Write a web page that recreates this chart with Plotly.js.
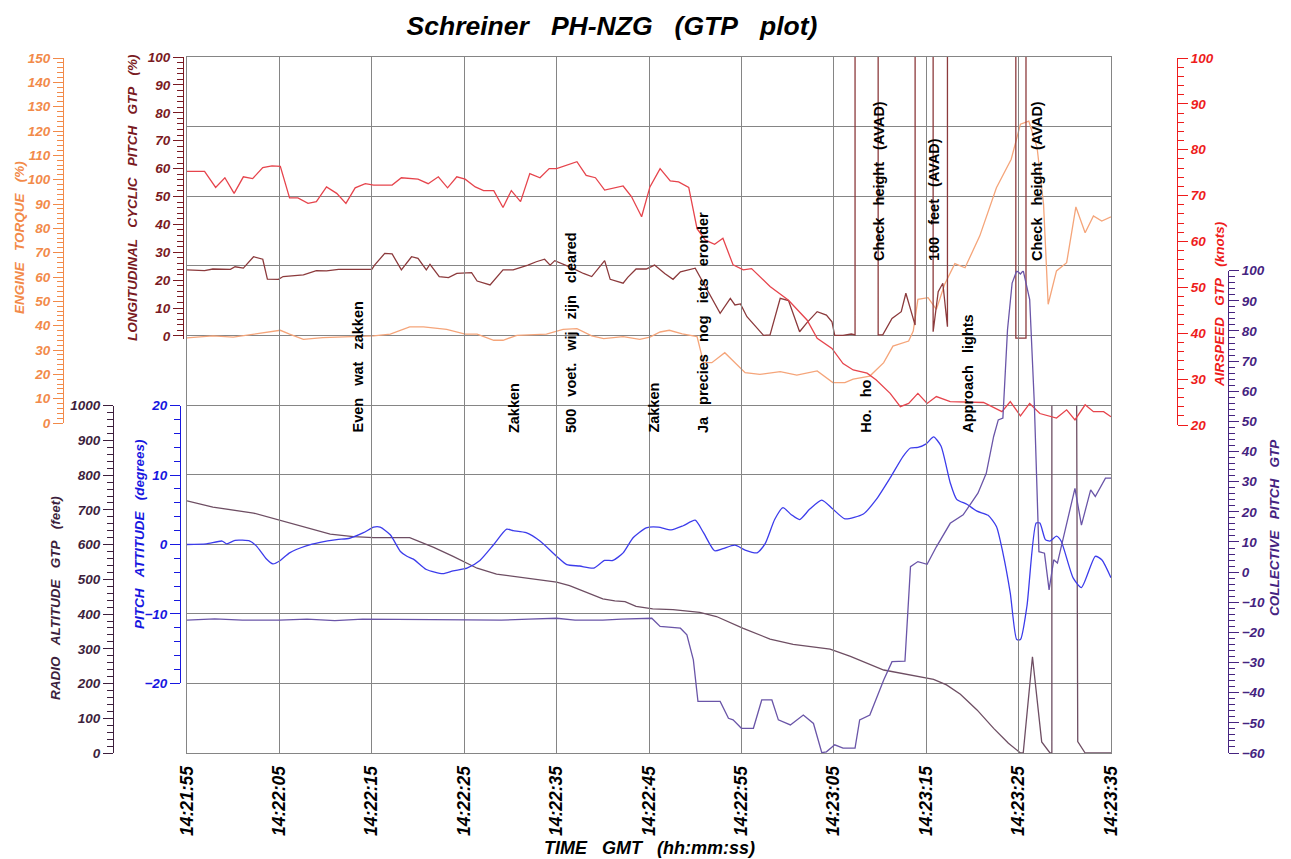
<!DOCTYPE html>
<html>
<head>
<meta charset="utf-8">
<script src="https://cdn.plot.ly/plotly-3.0.1.min.js"></script>
<style>
html,body{margin:0;padding:0;background:#fff;}
#chart{width:1291px;height:859px;}
</style>
</head>
<body>
<div id="chart"></div>
<script>
// ---------------- DATA (seconds after 14:21:55 GMT) ----------------
const startClock = [14, 21, 55];
const OFF = 1000;      // off-scale (above top of axis) for cyclic pitch
const OFF_ALT = 5000;  // off-scale radio altitude

const airspeedTime = [0,1.9,3.1,4.1,5.1,6.1,7.1,8.2,9.2,10.1,11.1,12.0,13.1,14.0,15.1,16.2,17.2,18.2,19.3,20.2,22.2,23.2,25.0,26.1,27.2,28.2,29.2,30.1,31.2,32.1,33.2,34.2,35.1,36.1,37.1,38.2,39.2,40.0,42.2,43.2,44.2,45.2,47.2,48.1,49.2,50.1,51.2,52.3,53.2,54.3,55.2,56.1,57.1,58.0,59.1,60.2,61.1,63.1,65.1,67.1,68.2,69.8,71.0,72.1,73.6,74.6,76.1,77.2,78.1,79.1,80.1,81.1,82.6,84.7,86.2,88.2,89.1,90.2,91.2,92.3,94.1,95.2,96.1,97.2,98.1,99.2,100];
const airspeedKnots = [75.3,75.3,71.8,73.9,70.5,74.1,73.7,76.1,76.5,76.4,69.5,69.5,68.3,68.7,71.9,70.5,68.3,71.7,72.6,72.3,72.3,73.9,73.6,72.6,74.1,71.7,74.1,73.6,71.9,71.1,71.1,67.4,71.1,68.7,74.8,73.9,75.9,75.9,77.4,74.4,73.9,71.2,72.1,69.8,65.4,71.9,75.9,73.2,73.0,71.8,62.8,60.3,59.4,60.7,54.9,53.8,54.1,50.2,47.2,42.9,38.9,36.7,33.4,32.0,31.3,29.8,26.9,24.0,24.7,26.9,24.7,26.2,25.1,24.9,24.9,22.9,25.1,22.0,24.7,22.5,21.5,23.3,21.1,24.4,22.9,22.9,21.8];

const cyclicTime = [0,1.9,2.8,4.7,5.2,6.1,7.2,8.2,8.7,9.9,10.4,12.6,14.0,15.1,16.4,19.1,20.0,20.3,21.4,22.2,23.2,24.3,25.0,25.9,26.3,27.3,28.3,29.2,30.8,31.4,32.8,34.2,35.3,36.9,37.8,38.7,39.3,39.8,41.6,42.9,43.8,45.2,45.8,47.2,47.7,48.6,49.7,50.6,51.7,52.6,53.4,55.0,55.7,56.8,57.7,58.8,59.3,59.9,60.6,62.4,63.1,64.2,65.1,66.3,67.1,68.2,69.2,69.8,70.1,71.0,71.9,72.3,72.3,74.8,74.8,75.3,76.3,77.3,77.8,78.8,78.8,80.75,80.75,81.3,81.8,82.3,82.3,89.7,89.7,90.8,90.8,100];
const cyclicPct = [23.7,23.4,24.0,23.9,24.8,24.3,28.4,27.5,20.4,20.3,21.3,21.9,23.4,23.3,23.9,24.0,23.9,25.4,29.6,29.4,23.7,28.4,27.8,23.7,25.7,21.3,20.9,22.4,22.7,19.7,18.3,23.7,23.7,25.4,26.6,27.5,25.4,27.0,24.5,22.4,21.3,27.0,20.3,18.9,21.0,24.0,24.0,25.4,22.4,20.3,23.0,24.3,20.1,13.5,8.1,13.5,11.1,11.5,6.9,0.2,0.4,13.5,12.7,1.5,4.8,8.7,7.5,5.1,0.2,0.2,0.7,0.4,OFF,OFF,0.4,0.4,6.3,8.7,15.3,3.9,OFF,OFF,1.5,15.9,18.9,3.3,OFF,OFF,-0.8,-0.8,OFF,OFF];

const torqueTime = [0,2.8,5.0,6.8,8.6,10.1,11.1,12.6,14.7,17.2,20.2,22.0,24.1,25.6,28.1,30.1,31.4,33.2,34.2,35.7,38.9,40.7,42.2,43.8,45.1,47.2,49.0,50.1,51.2,52.2,53.6,55.2,55.9,56.8,58.2,60.4,62.0,64.2,66.0,68.2,69.9,71.2,72.1,73.9,75.4,76.4,78.1,78.6,79.1,80.2,81.1,82.0,83.1,84.2,85.8,87.6,89.2,90.2,91.1,92.0,92.7,93.2,94.1,95.2,96.2,97.2,98.1,99.0,100];
const torquePct = [35.0,35.8,35.3,36.2,37.1,38.1,36.5,34.4,35.1,35.5,35.8,36.5,39.5,39.5,38.5,36.5,36.5,34.0,34.0,36.0,36.5,38.5,38.8,35.8,34.7,35.5,34.4,35.3,37.4,38.1,36.6,35.5,24.8,24.8,28.9,20.7,20.0,21.1,19.7,21.4,16.6,16.6,18.0,19.3,24.8,31.6,33.7,37.8,50.8,51.5,46.7,57.0,65.5,63.8,76.9,96.7,108.4,122.8,124.1,113.2,89.9,48.8,62.5,65.9,88.8,78.2,85.1,83.0,84.7];

const pitchTime = [0,2.1,3.8,4.3,5.2,6.8,7.5,8.6,9.3,10.1,11.1,12.9,14.4,16.2,17.6,19.1,20.2,20.9,22.0,23.1,23.8,24.5,25.9,27.7,28.8,30.3,31.7,33.2,34.6,35.3,36.7,38.2,40.0,41.1,42.5,44.0,45.2,46.1,47.2,48.3,49.7,51.0,52.4,53.7,55.0,55.9,57.1,58.0,59.3,60.4,61.7,62.6,63.6,64.5,65.4,66.3,67.4,68.7,69.9,71.2,73.2,74.6,76.1,77.5,78.3,79.1,80.0,80.8,81.6,82.6,83.3,84.4,85.5,86.7,87.6,88.3,89.1,89.8,90.2,90.9,91.9,92.3,92.9,93.4,94.1,94.6,95.9,96.8,98.3,99.0,100];
const pitchDeg = [0,0.1,0.5,0.1,0.6,0.5,-0.2,-2.1,-2.8,-2.3,-1.2,-0.2,0.3,0.7,0.9,1.7,2.5,2.5,1.4,-1.0,-1.7,-2.1,-3.6,-4.2,-3.8,-3.4,-2.3,0,2.2,2.0,1.7,0.5,-1.7,-2.9,-3.1,-3.4,-2.3,-2.3,-1.2,1.0,2.4,2.5,2.1,2.7,3.5,1.7,-0.9,-0.6,-0.1,-0.8,-1.2,0.2,3.6,5.3,4.3,3.6,5.1,6.4,5.1,3.7,4.4,6.5,9.6,12.7,13.9,14.0,14.5,15.5,14.2,8.9,6.5,5.8,4.8,4.2,2.6,-1.2,-7.0,-13.7,-13.7,-8.9,3.1,3.1,0.7,0.5,1.2,0.5,-4.8,-6.2,-1.7,-2.2,-4.8];

const altTime = [0,2.8,7.2,10.1,13.5,15.5,18.0,20.2,24.1,26.7,28.8,31.4,33.5,36.8,40.0,41.4,43.2,45.0,46.3,47.4,48.6,50.4,52.6,55.5,57.3,60.2,63.1,65.6,69.6,71.8,75.4,78.6,80.8,82.2,83.7,85.5,87.3,88.9,90.2,90.5,91.5,92.5,93.4,93.6,93.6,95.8,96.4,97.2,100];
const altFeet = [726,708,691,669,643,630,623,620,620,592,566,532,515,503,492,482,462,444,438,436,422,415,413,405,393,359,328,313,299,278,239,223,212,196,169,124,71,28,0,0,277,32,0,0,OFF_ALT,OFF_ALT,33,0,0];

const collTime = [0,3,6,10,13,16,19,22,25,28,31,34,37,40,42,45,47,49,50.3,51.2,53.4,54.1,54.8,55.3,57.7,58.6,59.1,60.0,61.3,62.2,63.3,64.0,65.3,66.7,67.8,68.7,69.2,70.1,71.0,72.3,72.8,73.9,75.4,76.3,77.7,78.3,79.1,80.1,81.1,82.6,84.0,85.6,86.5,87.3,87.8,88.3,88.8,89.3,89.8,90.2,90.5,91.2,91.7,92.2,92.8,93.3,93.8,94.2,96.1,96.8,97.8,98.3,99.4,100];
const collPitch = [-15.9,-15.5,-15.9,-15.9,-15.6,-16.1,-15.6,-15.7,-15.6,-15.9,-15.8,-15.9,-15.6,-15.3,-15.9,-15.9,-15.6,-15.4,-15.3,-18.0,-18.6,-20.8,-29.1,-42.9,-42.9,-48.5,-49.0,-51.8,-51.8,-42.4,-42.4,-49.0,-50.7,-47.4,-50.2,-59.9,-59.6,-57.3,-58.4,-58.4,-49.0,-47.4,-35.8,-29.7,-29.5,1.8,3.5,2.6,8.4,16.2,19.0,26.2,32.8,45.0,50.5,51.1,80.4,95.9,100,98.9,100,90.4,56.1,6.8,6.3,-5.9,4.1,3.0,27.8,15.6,27.3,25.1,31.2,31.2];

// Cockpit voice remarks (time, text, row: 'low' | 'high')
const remarkTime = [18.4, 35.4, 41.5, 50.5, 55.8, 73.4, 74.9, 80.8, 84.5, 92.0];
const remarkText = ['Even wat zakken','Zakken','500 voet. wij zijn cleared','Zakken','Ja precies nog iets eronder','Ho. ho','Check height (AVAD)','100 feet (AVAD)','Approach lights','Check height (AVAD)'];
const remarkRow = ['low','low','low','low','low','low','high','high','low','high'];

// ---------------- helpers ----------------
function pad(n, w){ n = String(n); while(n.length < (w||2)) n = '0' + n; return n; }
function stamp(sec){
  const base = startClock[0]*3600 + startClock[1]*60 + startClock[2];
  const ms = Math.round((base + sec) * 1000);
  const h = Math.floor(ms / 3600000), m = Math.floor(ms % 3600000 / 60000),
        s = Math.floor(ms % 60000 / 1000), f = ms % 1000;
  return '2000-01-01 ' + pad(h) + ':' + pad(m) + ':' + pad(s) + '.' + pad(f, 3);
}
function wide(s){ return s.split(' ').join('\u00a0\u00a0\u00a0'); }

const FONT = '"Liberation Sans", Arial, Helvetica, sans-serif';
function fnt(size, color, italic){ return {family: FONT, size: size, color: color, weight: 'bold', style: italic === false ? 'normal' : 'italic'}; }

const W = 1291, H = 859, ML = 10, MR = 10, MT = 57, MB = 106;
const PW = W - ML - MR, PH = H - MT - MB;
const fx = px => (px - ML) / PW;
const fy = py => (H - MB - py) / PH;

const C = {
  torqueAx: '#f28a4a', torque: '#f5a57a',
  cyclicAx: '#7a1a22', cyclic: '#8c3a3c',
  altAx: '#3d1f3d', alt: '#6e4e63',
  pitchAx: '#1717e0', pitch: '#3c3ceb',
  speedAx: '#ee1c1c', speed: '#e6444c',
  collAx: '#45237f', coll: '#6a55a8',
  grid: '#858585'
};

function line(t, v, axis, color, shape){
  return {x: t.map(stamp), y: v, xaxis: 'x', yaxis: axis, type: 'scatter', mode: 'lines',
          line: {color: color, width: 1.3, shape: shape || 'linear', smoothing: 0.6},
          hoverinfo: 'skip', showlegend: false};
}

const traces = [
  // frame subplot carrying the 10 x 10 grid (no marks)
  {x: [stamp(0)], y: [null], xaxis: 'x', yaxis: 'y', type: 'scatter', mode: 'lines', hoverinfo: 'skip', showlegend: false},
  line(torqueTime, torquePct, 'y2', C.torque),
  line(cyclicTime, cyclicPct, 'y3', C.cyclic),
  line(altTime, altFeet, 'y4', C.alt),
  line(collTime, collPitch, 'y7', C.coll),
  line(pitchTime, pitchDeg, 'y5', C.pitch, 'spline'),
  line(airspeedTime, airspeedKnots, 'y6', C.speed)
];

function yax(color, o){
  return Object.assign({
    anchor: 'free', showgrid: false, zeroline: false, showline: true, linecolor: color, linewidth: 1,
    ticks: 'outside', ticklen: 10, tickwidth: 1, tickcolor: color,
    tickfont: fnt(13.5, color), tick0: 0,
    minor: {ticks: 'outside', ticklen: 6, tickwidth: 1, tickcolor: color, showgrid: false},
    fixedrange: true
  }, o);
}

const annotations = [];
remarkText.forEach((txt, i) => {
  annotations.push({
    xref: 'x', yref: 'paper', x: stamp(remarkTime[i]), y: fy(remarkRow[i] === 'low' ? 435 : 263),
    text: wide(txt), showarrow: false, textangle: -90, xanchor: 'center', yanchor: 'bottom',
    font: fnt(14.5, '#000', false)
  });
});
const axisTitles = [
  ['ENGINE TORQUE (%)', 19, 238, C.torqueAx],
  ['LONGITUDINAL CYCLIC PITCH GTP (%)', 132, 198, C.cyclicAx],
  ['RADIO ALTITUDE GTP (feet)', 55, 598, C.altAx],
  ['PITCH ATTITUDE (degrees)', 139, 534, C.pitchAx],
  ['AIRSPEED GTP (knots)', 1219, 304, C.speedAx],
  ['COLLECTIVE PITCH GTP', 1274, 528, C.collAx]
];
axisTitles.forEach(a => {
  annotations.push({xref: 'paper', yref: 'paper', x: fx(a[1]), y: fy(a[2]), text: wide(a[0]),
    showarrow: false, textangle: -90, xanchor: 'center', yanchor: 'middle', font: fnt(13.5, a[3])});
});
annotations.push({xref: 'paper', yref: 'paper', x: fx(649), y: fy(848), text: wide('TIME GMT (hh:mm:ss)'),
  showarrow: false, xanchor: 'center', yanchor: 'middle', font: fnt(18, '#000')});

const layout = {
  width: W, height: H,
  margin: {l: ML, r: MR, t: MT, b: MB, pad: 0},
  paper_bgcolor: '#fff', plot_bgcolor: 'rgba(0,0,0,0)',
  showlegend: false,
  title: {text: wide('Schreiner PH-NZG (GTP plot)'), font: fnt(26.5, '#000'),
          xref: 'container', yref: 'container', x: 612 / W, y: 1 - 26 / H, xanchor: 'center', yanchor: 'middle'},
  xaxis: {
    anchor: 'y', domain: [fx(187), fx(1111)], type: 'date',
    range: [stamp(0), stamp(100)], tick0: stamp(0), dtick: 10000, tickformat: '%H:%M:%S',
    tickangle: -90, tickfont: fnt(17.5, '#000'), ticks: '', ticklabelstandoff: 5,
    showgrid: true, gridcolor: C.grid, gridwidth: 1, zeroline: false,
    showline: true, mirror: true, linecolor: C.grid, linewidth: 1, fixedrange: true
  },
  yaxis: {
    anchor: 'x', domain: [0, 1], range: [0, 10], dtick: 1, tick0: 0,
    showgrid: true, gridcolor: C.grid, gridwidth: 1, zeroline: false,
    showticklabels: false, ticks: '', showline: true, mirror: true, linecolor: C.grid, fixedrange: true
  },
  yaxis2: yax(C.torqueAx, {domain: [fy(423), fy(58)], range: [0, 150], dtick: 10, position: fx(63), side: 'left'}),
  yaxis3: yax(C.cyclicAx, {domain: [fy(339.3), fy(57)], range: [-1.2, 100], dtick: 10, position: fx(183), side: 'left'}),
  yaxis4: yax(C.altAx, {domain: [0, fy(405.7)], range: [0, 1000], dtick: 100, position: fx(113), side: 'left'}),
  yaxis5: yax(C.pitchAx, {domain: [fy(683.3), fy(405.7)], range: [-20, 20], dtick: 10, position: fx(180), side: 'left'}),
  yaxis6: yax(C.speedAx, {domain: [fy(425), fy(58)], range: [20, 100], dtick: 10, position: fx(1177), side: 'right'}),
  yaxis7: yax(C.collAx, {domain: [0, fy(270.7)], range: [-60, 100], dtick: 10, position: fx(1228), side: 'right'}),
  annotations: annotations
};
layout.yaxis2.minor.dtick = 2;
layout.yaxis3.minor.dtick = 2;
layout.yaxis4.minor.dtick = 20;
layout.yaxis5.minor.dtick = 2;
layout.yaxis6.minor.dtick = 2;
layout.yaxis7.minor.dtick = 2;

Plotly.newPlot('chart', traces, layout, {staticPlot: true, displayModeBar: false});
</script>
</body>
</html>
